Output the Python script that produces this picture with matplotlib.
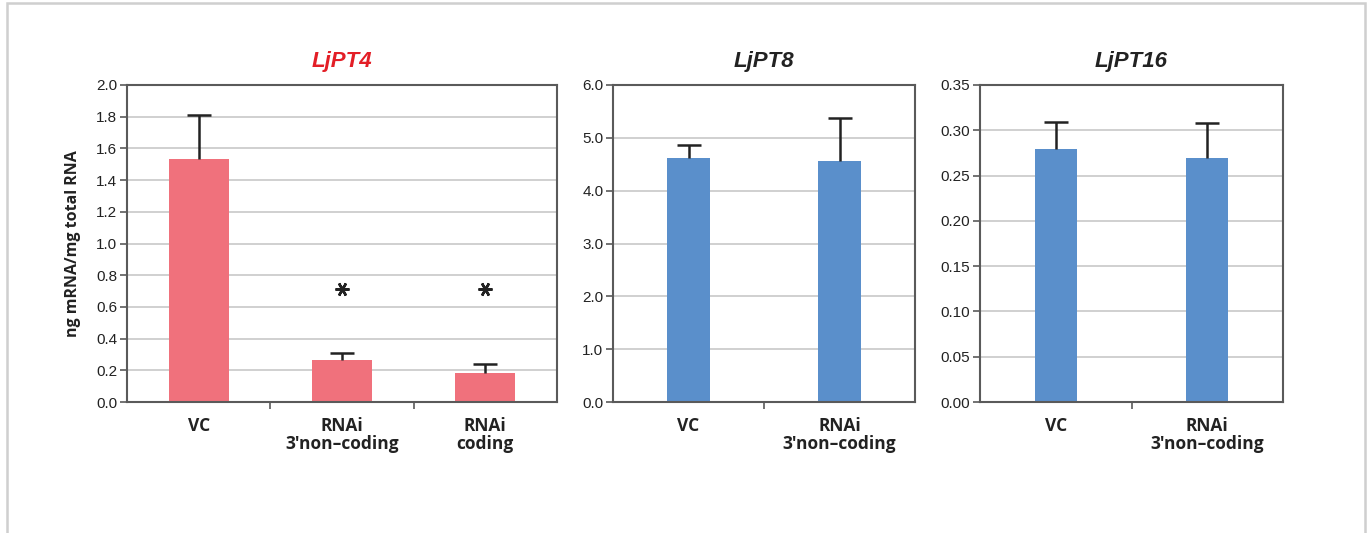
import numpy as np
import matplotlib.pyplot as plt
from matplotlib.patches import Rectangle

# data
pt4_labels = ["VC", "RNAi\n3'non\u2013coding", "RNAi\ncoding"]
pt4_means = [1.53, 0.265, 0.182]
pt4_err = [0.28, 0.045, 0.055]
pt4_star = [None, 0.71, 0.71]

pt8_labels = ["VC", "RNAi\n3'non\u2013coding"]
pt8_means = [4.62, 4.56]
pt8_err = [0.25, 0.81]

pt16_labels = ["VC", "RNAi\n3'non\u2013coding"]
pt16_means = [0.279, 0.269]
pt16_err = [0.030, 0.039]

red = "#F0717C"
blue = "#5A8FCB"
spine_col = "#5a5a5a"

fig = plt.figure(figsize=(13.71, 5.33), dpi=100)
fig.patches.append(Rectangle((7 / 1371, -0.01), 1358 / 1371, 1.0 - 3 / 533 + 0.01,
                             transform=fig.transFigure, fill=False,
                             edgecolor="#cfcfcf", linewidth=1.8))

bottom = 1 - 402 / 533
height = (402 - 85) / 533


def panel(rect, labels, means, err, color, ymax, step, fmt, title, title_color,
          width, stars=None):
    ax = fig.add_axes(rect)
    x = np.arange(len(labels))
    means = np.array(means)
    tops = means + np.array(err)
    ax.bar(x, means, width=width, color=color, zorder=2)
    # upper error bar only, with a cap at the top
    ax.vlines(x, means, tops, color="#222222", linewidth=1.8, zorder=3)
    ax.plot(x, tops, linestyle="none", marker="_", markersize=17,
            markeredgewidth=1.8, color="#222222", zorder=3)
    if stars is not None:
        for xi, s in zip(x, stars):
            if s is not None:
                ax.plot(xi, s, marker=(6, 2, 30), color="#222222", markersize=10,
                        markeredgewidth=1.8, zorder=3)
    ax.set_xlim(-0.5, len(labels) - 0.5)
    ax.set_ylim(0, ymax)
    ticks = np.arange(0, ymax + step / 2, step)
    ax.set_yticks(ticks)
    ax.set_yticklabels([fmt.format(t) for t in ticks], fontfamily="Liberation Sans",
                       fontsize=11, color="#222222")
    ax.yaxis.grid(True, color="#c4c4c4", linewidth=1.1, zorder=0)
    ax.set_axisbelow(True)
    # category labels under bars, ticks between categories
    ax.set_xticks(np.arange(0.5, len(labels) - 0.5, 1.0))
    ax.set_xticklabels([])
    ax.set_xticks(x, minor=True)
    ax.set_xticklabels(labels, minor=True, fontfamily="Open Sans", fontweight="bold",
                       fontsize=12.5, color="#222222", linespacing=1.0)
    ax.tick_params(axis="x", which="minor", length=0, pad=11)
    ax.tick_params(axis="x", which="major", length=5, width=1.2, color=spine_col)
    ax.tick_params(axis="y", length=5, width=1.2, color=spine_col, pad=2)
    for sp in ax.spines.values():
        sp.set_color(spine_col)
        sp.set_linewidth(1.5)
    ax.set_title(title, fontfamily="Liberation Sans", fontweight="bold",
                 fontstyle="italic", fontsize=16, color=title_color, pad=13)
    return ax


ax1 = panel([127 / 1371, bottom, 430 / 1371, height], pt4_labels, pt4_means, pt4_err,
            red, 2.0, 0.2, "{:.1f}", "LjPT4", "#E31E26", 0.42, pt4_star)
ax1.set_ylabel("ng mRNA/mg total RNA", fontfamily="Open Sans", fontweight="bold",
               fontsize=11.5, color="#222222", labelpad=11)

panel([613 / 1371, bottom, 302 / 1371, height], pt8_labels, pt8_means, pt8_err,
      blue, 6.0, 1.0, "{:.1f}", "LjPT8", "#222222", 0.28)
panel([980 / 1371, bottom, 303 / 1371, height], pt16_labels, pt16_means, pt16_err,
      blue, 0.35, 0.05, "{:.2f}", "LjPT16", "#222222", 0.28)

fig.savefig("out.png", dpi=100)
